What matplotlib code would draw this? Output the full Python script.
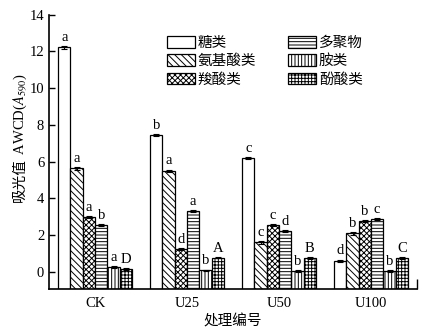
import matplotlib
matplotlib.use("Agg")
import matplotlib.pyplot as plt
import numpy as np

# =========================
# DATA
# =========================
groups = ["CK", "U25", "U50", "U100"]
series = ["糖类", "氨基酸类", "羧酸类", "多聚物", "胺类", "酚酸类"]

sugar = [12.22, 7.46, 6.19, 0.60]
amino = [5.64, 5.49, 1.60, 2.10]
carboxyl = [2.97, 1.24, 2.55, 2.77]
polymer = [2.55, 3.33, 2.24, 2.86]
amine = [0.27, 0.08, 0.03, 0.03]
phenolic = [0.14, 0.77, 0.76, 0.74]

err = [0.06, 0.08, 0.05, 0.05, 0.04, 0.04]

letters = [
    ["a", "b", "c", "d"],
    ["a", "a", "c", "b"],
    ["a", "d", "c", "b"],
    ["b", "a", "d", "c"],
    ["a", "b", "b", "b"],
    ["D", "A", "B", "C"],
]

# =========================
# STYLE
# =========================
plt.rcParams["font.family"] = ["Liberation Serif", "Noto Sans CJK SC"]
plt.rcParams["mathtext.fontset"] = "stix"
plt.rcParams["hatch.linewidth"] = 0.7

hatches = ["", "\\\\\\\\\\", "xxxxxx", "-----", "|||||", "+++++"]
YMIN = -0.94
W = 0.134

fig = plt.figure(figsize=(4.27, 3.30), dpi=100)
ax = fig.add_axes([0.1148, 0.1242, 0.8618, 0.831])

x = np.arange(len(groups))
data = [sugar, amino, carboxyl, polymer, amine, phenolic]

for i, vals in enumerate(data):
    pos = x + (i - 2.5) * W
    vals = np.array(vals)
    ax.bar(pos, vals - YMIN, bottom=YMIN, width=W, color="white",
           edgecolor="black", linewidth=0.9, hatch=hatches[i],
           label=series[i], zorder=2)
    ax.errorbar(pos, vals, yerr=err[i], fmt="none", ecolor="black",
                elinewidth=0.8, capsize=2.5, capthick=0.8, zorder=3)
    for p, v, t in zip(pos, vals, letters[i]):
        ax.text(p, v + err[i] + 0.12, t, ha="center", va="bottom",
                fontsize=10.5)

# =========================
# AXES
# =========================
ax.set_xlim(-0.5, 3.5)
ax.set_ylim(YMIN, 14)
ax.set_yticks(np.arange(0, 15, 2))
ax.set_xticks(x)
ax.set_xticklabels(groups, fontsize=10.5)
ax.tick_params(axis="y", direction="in", length=4.5, width=1, labelsize=10.5)
ax.tick_params(axis="x", length=0, labelsize=10.5, pad=6)
ax.set_xticks([3.5], minor=True)
ax.tick_params(axis="x", which="minor", direction="in", length=7, width=1)

for s in ["top", "right"]:
    ax.spines[s].set_visible(False)
for s in ["left", "bottom"]:
    ax.spines[s].set_linewidth(1.2)

# y label in two pieces so the CJK part and the math part both render
fig.text(0.047, 0.521, "吸光值", rotation=90, ha="center", va="top",
         fontsize=10.5, family="Noto Sans CJK SC")
fig.text(0.047, 0.521, " AWCD($A_{590}$)", rotation=90, ha="center",
         va="bottom", fontsize=10.5, family="Liberation Serif")
ax.set_xlabel("处理编号", fontsize=10.5, labelpad=3)

ax.legend(ncol=2, loc="upper left", bbox_to_anchor=(0.285, 0.97),
          frameon=False, fontsize=10.5, handlelength=1.9, handleheight=0.85,
          columnspacing=2.2, labelspacing=0.3, handletextpad=0.2)

plt.savefig("out.png", dpi=100)
